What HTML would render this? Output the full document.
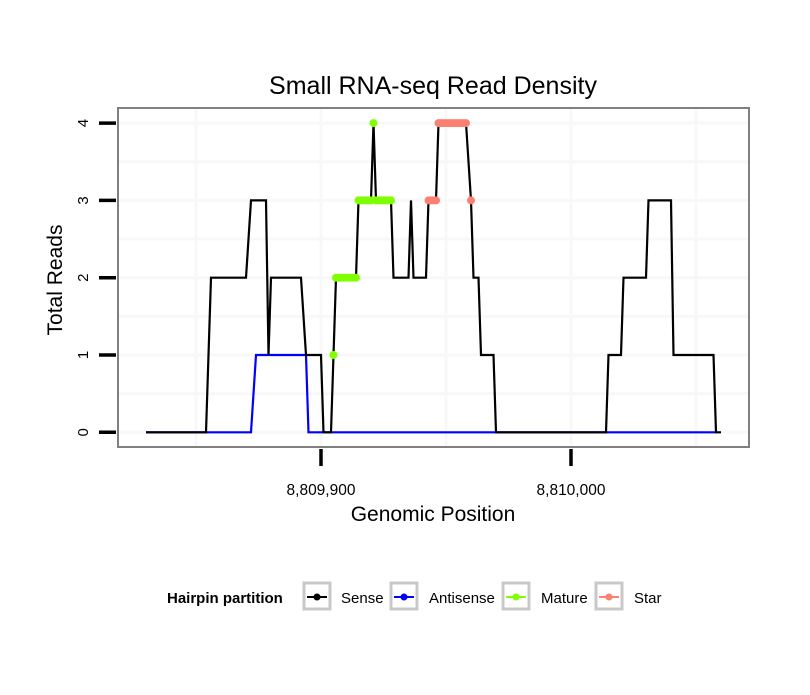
<!DOCTYPE html>
<html><head><meta charset="utf-8"><style>
body{margin:0;background:#fff;}
svg text{font-family:"Liberation Sans",sans-serif;}
</style></head><body>
<svg width="810" height="690" xmlns="http://www.w3.org/2000/svg">
<g id="grid"></g>
<g id="series"></g>
<rect x="118" y="108" width="631" height="339" fill="none" stroke="#808080" stroke-width="2"/>
<g id="axes"></g>
<text x="433" y="94" font-size="25" text-anchor="middle">Small RNA-seq Read Density</text>
<text x="433" y="521" font-size="21" text-anchor="middle">Genomic Position</text>
<text transform="translate(62,280) rotate(-90)" font-size="21" text-anchor="middle">Total Reads</text>
<g font-size="15">
<text x="167" y="603" font-weight="bold">Hairpin partition</text>
<g><rect x="304" y="583" width="26" height="26" fill="#fff" stroke="#c8c8c8" stroke-width="3"/><line x1="307" y1="597" x2="327" y2="597" stroke="#000" stroke-width="2"/><circle cx="317" cy="597" r="3.5" fill="#000"/><text x="341" y="603">Sense</text></g>
<g><rect x="391" y="583" width="26" height="26" fill="#fff" stroke="#c8c8c8" stroke-width="3"/><line x1="394" y1="597" x2="414" y2="597" stroke="#0000ff" stroke-width="2"/><circle cx="404" cy="597" r="3.5" fill="#0000ff"/><text x="429" y="603">Antisense</text></g>
<g><rect x="503" y="583" width="26" height="26" fill="#fff" stroke="#c8c8c8" stroke-width="3"/><line x1="506" y1="597" x2="526" y2="597" stroke="#7fff00" stroke-width="2"/><circle cx="516" cy="597" r="3.5" fill="#7fff00"/><text x="541" y="603">Mature</text></g>
<g><rect x="596" y="583" width="26" height="26" fill="#fff" stroke="#c8c8c8" stroke-width="3"/><line x1="599" y1="597" x2="619" y2="597" stroke="#fa8072" stroke-width="2"/><circle cx="609" cy="597" r="3.5" fill="#fa8072"/><text x="634" y="603">Star</text></g>
</g>
</svg>
<script>
const sensePos=[8809830,8809854,8809856,8809870,8809872,8809878,8809879,8809880,8809892,8809894,8809900,8809901,8809904,8809905,8809906,8809914,8809915,8809920,8809921,8809922,8809928,8809929,8809935,8809936,8809937,8809942,8809943,8809946,8809947,8809958,8809960,8809961,8809963,8809964,8809969,8809970,8810014,8810015,8810020,8810021,8810030,8810031,8810040,8810041,8810057,8810058,8810060];
const senseReads=[0,0,2,2,3,3,1,2,2,1,1,0,0,1,2,2,3,3,4,3,3,2,2,3,2,2,3,3,4,4,3,2,2,1,1,0,0,1,1,2,2,3,3,1,1,0,0];
const antiPos=[8809830,8809872,8809874,8809894,8809895,8810058];
const antiReads=[0,0,1,1,0,0];
const maturePos=[8809905,8809906,8809907,8809908,8809909,8809910,8809911,8809912,8809913,8809914,8809915,8809916,8809917,8809918,8809919,8809920,8809921,8809922,8809923,8809924,8809925,8809926,8809927,8809928];
const matureReads=[1,2,2,2,2,2,2,2,2,2,3,3,3,3,3,3,4,3,3,3,3,3,3,3];
const starPos=[8809943,8809944,8809945,8809946,8809947,8809948,8809949,8809950,8809951,8809952,8809953,8809954,8809955,8809956,8809957,8809958,8809960];
const starReads=[3,3,3,3,4,4,4,4,4,4,4,4,4,4,4,4,3];
const yTicks=[0,1,2,3,4];
const xTicks=[8809900,8810000];
const xTickLabels=["8,809,900","8,810,000"];
const xMinor=[8809850,8809950,8810050];
const NS="http://www.w3.org/2000/svg";
function xs(v){return 321+(v-8809900)*2.5;}
function ys(v){return 432.3-v*77.3;}
function mk(tag,attrs,parent){const e=document.createElementNS(NS,tag);for(const k in attrs)e.setAttribute(k,attrs[k]);parent.appendChild(e);return e;}
const grid=document.getElementById('grid'),series=document.getElementById('series'),axes=document.getElementById('axes');
for(const v of [0,0.5,1,1.5,2,2.5,3,3.5,4]){const l=mk('line',{x1:118,x2:749,y1:ys(v),y2:ys(v),stroke:'#f8f8f8','stroke-width':3},grid);

}
for(const v of xMinor.concat(xTicks)){const l=mk('line',{x1:xs(v),x2:xs(v),y1:108,y2:447,stroke:'#f8f8f8','stroke-width':3},grid);

}
function path(px,py,col,name){let d='';px.forEach((p,i)=>{d+=(i?'L':'M')+xs(p)+','+ys(py[i]);});const e=mk('path',{d:d,fill:'none',stroke:col,'stroke-width':2.2,'stroke-linejoin':'miter'},series);

}
path(antiPos,antiReads,'#0000ff','antisense-line');
path(sensePos,senseReads,'#000','sense-line');
function pts(px,py,col,name){px.forEach((p,i)=>{const c=mk('circle',{cx:xs(p),cy:ys(py[i]),r:4,fill:col},series);

});}
pts(maturePos,matureReads,'#7fff00','mature-point');
pts(starPos,starReads,'#fa8072','star-point');
yTicks.forEach(v=>{const t=mk('line',{x1:99,x2:116,y1:ys(v),y2:ys(v),stroke:'#000','stroke-width':3.5},axes);


const tx=mk('text',{transform:'translate(88,'+ys(v)+') rotate(-90)','font-size':15,'text-anchor':'middle'},axes);


tx.textContent=v;});
xTicks.forEach((v,i)=>{const t=mk('line',{x1:xs(v),x2:xs(v),y1:449,y2:466,stroke:'#000','stroke-width':3.5},axes);


const tx=mk('text',{x:xs(v),y:495,'font-size':15.5,'text-anchor':'middle'},axes);


tx.textContent=xTickLabels[i];});
</script>
</body></html>
